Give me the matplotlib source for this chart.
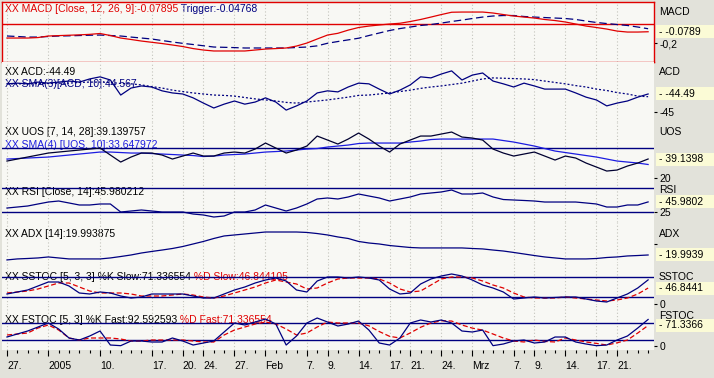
import matplotlib
matplotlib.use("Agg")
import matplotlib.pyplot as plt
from matplotlib.patches import Rectangle
from matplotlib.ticker import FixedLocator
import numpy as np

plt.rcParams['font.family'] = ['Liberation Sans', 'DejaVu Sans']

# ---------------- data ----------------
xtick_pos = [0, 4, 9, 14, 17, 19, 22, 25, 29, 31, 34, 37, 39, 42, 45, 49, 51, 54, 57, 59]
xtick_labels = ['27.', '2005', '10.', '17.', '20.', '24.', '27.', 'Feb', '7.', '9.',
                '14.', '17.', '21.', '24.', 'Mrz', '7.', '9.', '14.', '17.', '21.']

macd = [-0.144, -0.144, -0.144, -0.139, -0.123, -0.119, -0.115, -0.111, -0.106, -0.097,
        -0.118, -0.144, -0.159, -0.175, -0.188, -0.201, -0.216, -0.232, -0.253, -0.268,
        -0.278, -0.278, -0.278, -0.278, -0.268, -0.258, -0.253, -0.247, -0.227, -0.196,
        -0.154, -0.113, -0.095, -0.062, -0.035, -0.020, -0.009, 0.001, 0.009, 0.027,
        0.048, 0.073, 0.099, 0.123, 0.125, 0.125, 0.125, 0.115, 0.099, 0.084,
        0.073, 0.063, 0.048, 0.037, 0.022, 0.001, -0.020, -0.035, -0.051, -0.072,
        -0.082, -0.082, -0.07895]
trigger = [-0.123, -0.128, -0.134, -0.134, -0.128, -0.123, -0.121, -0.118, -0.115, -0.113,
           -0.118, -0.123, -0.134, -0.144, -0.154, -0.170, -0.185, -0.199, -0.211, -0.224,
           -0.237, -0.240, -0.243, -0.247, -0.247, -0.247, -0.247, -0.247, -0.242, -0.237,
           -0.225, -0.198, -0.180, -0.163, -0.146, -0.118, -0.092, -0.066, -0.046, -0.030,
           -0.014, -0.004, 0.011, 0.027, 0.042, 0.058, 0.073, 0.084, 0.089, 0.089,
           0.079, 0.073, 0.068, 0.063, 0.058, 0.048, 0.032, 0.017, 0.006, -0.004,
           -0.014, -0.030, -0.04768]
acd = [-44.20, -44.18, -44.20, -44.15, -44.18, -44.15, -44.12, -44.15, -44.06, -44.00,
       -44.09, -44.52, -44.32, -44.26, -44.29, -44.40, -44.46, -44.49, -44.60, -44.75,
       -44.89, -44.78, -44.69, -44.78, -44.72, -44.60, -44.72, -44.95, -44.83, -44.69,
       -44.46, -44.40, -44.43, -44.29, -44.18, -44.20, -44.35, -44.49, -44.38, -44.23,
       -44.00, -44.03, -43.92, -43.83, -44.09, -43.95, -43.89, -44.12, -44.20, -44.29,
       -44.18, -44.26, -44.35, -44.35, -44.35, -44.46, -44.58, -44.66, -44.83, -44.75,
       -44.69, -44.58, -44.49]
acd_sma = [-44.20, -44.20, -44.20, -44.19, -44.19, -44.18, -44.18, -44.16, -44.15, -44.15,
           -44.16, -44.19, -44.20, -44.23, -44.28, -44.32, -44.38, -44.42, -44.46, -44.49,
           -44.52, -44.53, -44.55, -44.59, -44.63, -44.66, -44.69, -44.73, -44.75, -44.72,
           -44.69, -44.66, -44.62, -44.58, -44.53, -44.52, -44.49, -44.46, -44.42, -44.38,
           -44.33, -44.29, -44.26, -44.22, -44.18, -44.12, -44.06, -44.03, -44.04, -44.05,
           -44.06, -44.08, -44.12, -44.16, -44.20, -44.25, -44.29, -44.35, -44.39, -44.45,
           -44.49, -44.55, -44.567]
uos = [37.1, 39.1, 41.1, 43.1, 45.1, 46.1, 47.1, 48.1, 49.1, 50.1,
       43.1, 36.1, 41.1, 45.1, 45.1, 43.1, 39.1, 42.1, 45.1, 42.1,
       42.1, 45.1, 46.1, 45.1, 49.1, 55.1, 50.1, 45.1, 48.1, 52.1,
       62.1, 58.1, 54.1, 59.1, 65.1, 59.1, 52.1, 46.1, 54.1, 58.1,
       62.1, 62.1, 64.1, 66.1, 61.1, 60.1, 58.1, 49.1, 45.1, 42.1,
       44.1, 46.1, 42.1, 38.1, 42.1, 40.1, 35.1, 31.1, 27.1, 28.1,
       32.1, 35.1, 39.14]
uos_sma = [39.1, 39.6, 40.1, 40.6, 41.1, 42.1, 43.1, 44.1, 45.1, 46.1,
           46.1, 45.6, 45.1, 45.1, 44.6, 44.1, 43.6, 43.1, 42.6, 41.6,
           42.1, 43.1, 43.6, 44.1, 45.1, 46.1, 46.6, 47.1, 48.1, 49.1,
           49.6, 51.1, 52.1, 53.1, 54.6, 55.1, 55.1, 55.1, 55.1, 56.1,
           57.1, 58.6, 59.1, 59.1, 59.1, 59.1, 59.1, 59.1, 57.6, 56.1,
           54.1, 52.1, 49.6, 47.1, 45.6, 44.1, 42.6, 41.1, 39.1, 37.1,
           36.1, 35.1, 33.65]
rsi = [33.3, 35.4, 37.5, 41.7, 45.8, 47.9, 43.8, 39.6, 39.6, 41.7,
       41.7, 25.0, 27.1, 29.2, 27.1, 25.0, 25.0, 25.0, 20.8, 18.8,
       14.6, 16.7, 25.0, 25.0, 29.2, 39.6, 33.3, 27.1, 33.3, 41.7,
       52.1, 54.2, 52.1, 56.3, 62.5, 58.3, 54.2, 47.9, 52.1, 56.3,
       62.5, 64.6, 66.7, 70.8, 62.5, 62.5, 64.6, 56.3, 51.0, 50.0,
       49.0, 47.9, 45.8, 45.8, 45.8, 45.8, 43.8, 41.7, 35.4, 35.4,
       39.6, 39.6, 45.98]
adx = [15.5, 16.4, 16.8, 17.3, 18.2, 17.3, 16.4, 16.4, 16.4, 16.4,
       17.3, 18.6, 20.0, 21.8, 23.2, 24.5, 25.9, 27.7, 30.0, 32.3,
       35.0, 37.3, 38.2, 39.1, 40.0, 40.9, 40.9, 40.9, 40.9, 40.5,
       39.5, 38.2, 36.4, 35.0, 32.3, 30.9, 30.0, 28.6, 27.7, 26.8,
       26.4, 26.4, 26.4, 26.4, 26.4, 25.9, 25.5, 24.5, 23.6, 22.3,
       20.9, 19.5, 18.2, 17.3, 16.4, 16.4, 16.4, 16.8, 17.7, 18.2,
       19.1, 19.5, 19.99]
sstoc_k = [29, 35, 41, 53, 65, 65, 53, 32, 29, 35,
           32, 23, 17, 20, 29, 29, 29, 29, 23, 17,
           17, 29, 41, 50, 62, 71, 77, 68, 41, 35,
           68, 80, 80, 77, 80, 77, 71, 44, 29, 32,
           59, 74, 83, 89, 83, 71, 56, 47, 35, 14,
           17, 20, 17, 18.5, 20, 20, 14, 8, 5, 17,
           29, 47, 71.34]
sstoc_d = [32, 35, 38, 44, 53, 62, 62, 50, 38, 32,
           32, 32, 29, 23, 23, 23, 26, 29, 26, 20,
           17, 23, 32, 41, 50, 62, 71, 65, 59, 44,
           47, 62, 74, 77, 77, 77, 74, 62, 44, 35,
           38, 56, 74, 80, 80, 77, 68, 56, 47, 32,
           20, 17, 17, 17, 20, 17, 14, 11, 8, 11,
           17, 29, 46.84]
fstoc_k = [30.6, 41.2, 51.8, 65.9, 80.1, 58.9, 27.1, 20.0, 34.1, 51.8,
           2.3, 0.0, 16.5, 16.5, 12.9, 12.9, 27.1, 16.5, 2.3, 9.4,
           16.5, 48.3, 80.1, 73.0, 83.6, 94.2, 76.5, 2.3, 34.1, 80.1,
           97.7, 83.6, 69.5, 76.5, 87.1, 55.3, 9.4, 2.3, 27.1, 80.1,
           90.7, 83.6, 90.7, 80.1, 51.8, 48.3, 55.3, 0.0, 5.9, 16.5,
           20.0, 9.4, 12.9, 30.6, 30.6, 12.9, 5.9, 0.0, 2.3, 20.0,
           34.1, 62.4, 92.59]
fstoc_d = [37.7, 41.2, 44.7, 62.4, 73.0, 55.3, 27.1, 20.0, 27.1, 27.1,
           27.1, 23.5, 16.5, 16.5, 20.0, 20.0, 20.0, 20.0, 16.5, 12.9,
           12.9, 37.7, 55.3, 65.9, 76.5, 83.6, 76.5, 58.9, 37.7, 44.7,
           65.9, 83.6, 80.1, 80.1, 80.1, 70.0, 50.0, 33.0, 27.1, 45.0,
           65.0, 80.1, 88.0, 87.0, 73.0, 62.0, 55.0, 41.2, 27.1, 16.5,
           13.0, 20.0, 15.0, 13.0, 27.1, 20.0, 13.0, 8.0, 2.3, 10.0,
           20.0, 44.7, 71.34]

# ---------------- layout ----------------
W, H, DPI = 714, 378, 100
fig = plt.figure(figsize=(W / DPI, H / DPI), dpi=DPI)
fig.patch.set_facecolor('#E2E2DA')

NAVY = '#000080'
RED = '#E00000'
BLUE = '#1c1ce0'
DARK = '#000030'
BG = '#F8F8F4'
GRID = '#C4C4BC'
BOX = '#FBFBD6'
FS = 7.5

x = np.arange(len(macd))
XL = (-0.48, 62.57)
LEFT, RIGHT = 2, 654


def make_ax(top, bottom, ylim):
    ax = fig.add_axes([LEFT / W, 1 - bottom / H, (RIGHT - LEFT) / W, (bottom - top) / H])
    ax.set_facecolor(BG)
    ax.set_xlim(*XL)
    ax.set_ylim(*ylim)
    for s in ax.spines.values():
        s.set_visible(False)
    ax.set_xticks(xtick_pos)
    ax.xaxis.grid(True, color=GRID, linestyle=(0, (1, 2)), linewidth=0.8)
    ax.tick_params(axis='x', which='both', bottom=False, labelbottom=False)
    ax.yaxis.tick_right()
    ax.tick_params(axis='y', length=2.5, width=0.8, pad=1.5, labelsize=FS, colors='black')
    return ax


def ptext(ax, px, py, s, color='black', z=1):
    return ax.text(px / W, 1 - py / H, s, transform=fig.transFigure, color=color,
                   fontsize=FS, va='center', ha='left', zorder=z, clip_on=False)


renderer = fig.canvas.get_renderer()


def title(ax, py, parts):
    px = 5
    for s, c in parts:
        t = ptext(ax, px, py, s, c)
        px += t.get_window_extent(renderer=renderer).width


def vbox(ax, val, s):
    yd = ax.transData.transform((0, val))[1]
    fig.add_artist(Rectangle((656 / W, (yd - 6.5) / H), (W - 656) / W, 13 / H,
                             transform=fig.transFigure, facecolor=BOX, edgecolor='none', zorder=1))
    fig.text(659 / W, yd / H, '- ' + s, fontsize=FS, va='center', ha='left', zorder=3)


def yticks(ax, vals, labels):
    ax.set_yticks(vals)
    ax.set_yticklabels(labels)


# MACD
ax = make_ax(2, 62, (-0.392, 0.229))
for s in ax.spines.values():
    s.set_visible(True)
    s.set_color(RED)
    s.set_linewidth(1.0)
ax.axhline(0, color=RED, lw=1.0)
ax.plot(x, trigger, color=NAVY, lw=0.9, dashes=(6, 3))
ax.plot(x, macd, color=RED, lw=0.9)
yticks(ax, [-0.2], ['-0,2'])
title(ax, 9, [('XX MACD [Close, 12, 26, 9]:-0.07895', RED), (' Trigger:-0.04768', NAVY)])
ptext(ax, 659, 12, 'MACD')
vbox(ax, macd[-1], '-0.0789')

# ACD
ax = make_ax(62, 122, (-45.29, -43.576))
ax.plot(x, acd_sma, color=NAVY, lw=0.9, dashes=(1.6, 1.6))
ax.plot(x, acd, color=NAVY, lw=0.9)
yticks(ax, [-45], ['-45'])
title(ax, 72, [('XX ACD:-44.49', 'black')])
title(ax, 84, [('XX SMA(3)[ACD, 10]:44.567', NAVY)])
ptext(ax, 659, 72, 'ACD')
vbox(ax, acd[-1], '-44.49')

# UOS
ax = make_ax(122, 183, (15.14, 76.14))
ax.axhline(50, color=NAVY, lw=1.0)
ax.plot(x, uos_sma, color=BLUE, lw=0.9)
ax.plot(x, uos, color=DARK, lw=0.9)
yticks(ax, [20], ['20'])
title(ax, 132, [('XX UOS [7, 14, 28]:39.139757', 'black')])
title(ax, 145, [('XX SMA(4) [UOS, 10]:33.647972', BLUE)])
ptext(ax, 659, 132, 'UOS')
vbox(ax, uos[-1], '39.1398')

# RSI
ax = make_ax(183, 222, (4.2, 85.4))
ax.axhline(75, color=NAVY, lw=1.0)
ax.axhline(25, color=NAVY, lw=1.0)
ax.plot(x, rsi, color=NAVY, lw=0.9)
yticks(ax, [25], ['25'])
title(ax, 192, [('XX RSI [Close, 14]:45.980212', 'black')])
ptext(ax, 659, 190, 'RSI')
vbox(ax, rsi[-1], '45.9802')

# ADX
ax = make_ax(222, 263, (12.7, 50))
ax.plot(x, adx, color=NAVY, lw=0.9)
yticks(ax, [30], [''])
title(ax, 234, [('XX ADX [14]:19.993875', 'black')])
ptext(ax, 659, 234, 'ADX')
vbox(ax, adx[-1], '19.9939')

# SSTOC
ax = make_ax(263, 305, (-4, 122))
ax.axhline(80, color=NAVY, lw=1.0)
ax.axhline(20, color=NAVY, lw=1.0)
ax.plot(x, sstoc_d, color=RED, lw=0.9, dashes=(4, 2))
ax.plot(x, sstoc_k, color=NAVY, lw=0.9)
yticks(ax, [0], ['0'])
title(ax, 277, [('XX SSTOC [5, 3, 3] %K Slow:71.336554', 'black'), (' %D Slow:46.844105', RED)])
ptext(ax, 659, 277, 'SSTOC')
vbox(ax, sstoc_d[-1], '46.8441')

# FSTOC
ax = make_ax(305, 350, (-15.3, 143.7))
ax.axhline(80, color=NAVY, lw=1.0)
ax.axhline(20, color=NAVY, lw=1.0)
ax.plot(x, fstoc_d, color=RED, lw=0.9, dashes=(4, 2))
ax.plot(x, fstoc_k, color=NAVY, lw=0.9)
yticks(ax, [0], ['0'])
title(ax, 320, [('XX FSTOC [5, 3] %K Fast:92.592593', 'black'), (' %D Fast:71.336554', RED)])
ptext(ax, 659, 316, 'FSTOC')
vbox(ax, fstoc_d[-1], '71.3366')

ax.set_xticklabels(xtick_labels)
ax.xaxis.set_minor_locator(FixedLocator(list(x)))
ax.tick_params(axis='x', which='major', bottom=True, labelbottom=True, length=4,
               width=0.8, pad=4, labelsize=FS, direction='out', colors='black')
ax.tick_params(axis='x', which='minor', bottom=True, length=2.5, width=0.8, direction='out')
for lab in ax.get_xticklabels():
    lab.set_ha('left')

fig.savefig('out.png', dpi=DPI, facecolor=fig.get_facecolor())
